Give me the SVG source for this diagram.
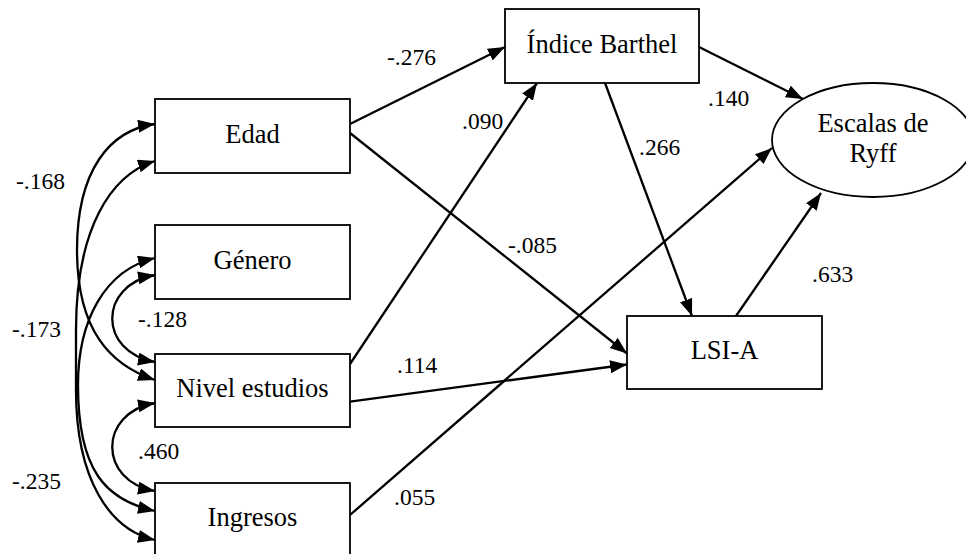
<svg xmlns="http://www.w3.org/2000/svg" width="966" height="554" viewBox="0 0 966 554">
  <style>
    .box { fill: #fff; stroke: #000; stroke-width: 1.8; }
    .lbl { font-family: "Liberation Serif", "Times New Roman", serif; font-size: 26.5px; fill: #000; text-anchor: middle; }
    .coef { font-family: "Liberation Serif", "Times New Roman", serif; font-size: 23.5px; fill: #000; }
    .path { fill: none; stroke: #000; stroke-width: 2.3; marker-end: url(#ah); }
    .cov { fill: none; stroke: #000; stroke-width: 2.3; marker-start: url(#ah); marker-end: url(#ah); }
  </style>
  <defs>
    <marker id="ah" markerUnits="userSpaceOnUse" markerWidth="17" markerHeight="14" refX="17" refY="6.5" orient="auto-start-reverse">
      <path d="M0,0 L17,6.5 L0,13 Z" fill="#000"/>
    </marker>
  </defs>
  <rect width="966" height="554" fill="#fff"/>

  <!-- connectors: regression paths and covariances -->
  <g id="connectors">
    <line class="path" x1="350" y1="124" x2="505" y2="47"/>
    <line class="path" x1="350" y1="133" x2="627" y2="353.5"/>
    <line class="path" x1="350" y1="364" x2="537" y2="83"/>
    <line class="path" x1="350" y1="401.7" x2="627" y2="364.5"/>
    <line class="path" x1="350" y1="515" x2="772" y2="148"/>
    <line class="path" x1="605" y1="83" x2="692" y2="316"/>
    <line class="path" x1="699" y1="47" x2="803" y2="99"/>
    <line class="path" x1="736" y1="316" x2="821" y2="193"/>

    <!-- Edad <-> Nivel estudios -->
    <path class="cov" d="M155,124 C110,130 77,170 77,250 C77,330 110,365 155,380"/>
    <!-- Edad <-> Ingresos -->
    <path class="cov" d="M155,161 C110,175 76,230 76,330 L76,390 C76,480 110,530 155,540"/>
    <!-- Género <-> Ingresos -->
    <path class="cov" d="M155,258 C105,270 78,320 78,385 C78,470 105,500 155,511"/>
    <!-- Género <-> Nivel estudios -->
    <path class="cov" d="M155,275 C98,285 98,352 155,362"/>
    <!-- Nivel estudios <-> Ingresos -->
    <path class="cov" d="M155,403 C98,413 98,481 155,491"/>
  </g>

  <!-- coefficients -->
  <g id="coefficients">
    <text class="coef" x="387" y="65">-.276</text>
    <text class="coef" x="462" y="129">.090</text>
    <text class="coef" x="639" y="155">.266</text>
    <text class="coef" x="708" y="106">.140</text>
    <text class="coef" x="508" y="253">-.085</text>
    <text class="coef" x="397" y="373">.114</text>
    <text class="coef" x="394" y="505">.055</text>
    <text class="coef" x="812" y="282">.633</text>
    <text class="coef" x="16" y="189">-.168</text>
    <text class="coef" x="12" y="337">-.173</text>
    <text class="coef" x="12" y="489">-.235</text>
    <text class="coef" x="138" y="327">-.128</text>
    <text class="coef" x="138" y="459">.460</text>
  </g>

  <g id="edad">
    <rect class="box" x="155" y="99" width="195" height="74"/>
    <text class="lbl" x="252.5" y="143">Edad</text>
  </g>
  <g id="genero">
    <rect class="box" x="155" y="225" width="195" height="74"/>
    <text class="lbl" x="252.5" y="269">Género</text>
  </g>
  <g id="nivel-estudios">
    <rect class="box" x="155" y="354" width="195" height="73"/>
    <text class="lbl" x="252.5" y="397">Nivel estudios</text>
  </g>
  <g id="ingresos">
    <rect class="box" x="155" y="483" width="195" height="74"/>
    <text class="lbl" x="252.5" y="526">Ingresos</text>
  </g>
  <g id="indice-barthel">
    <rect class="box" x="505" y="9" width="194" height="74"/>
    <text class="lbl" x="602" y="53">Índice Barthel</text>
  </g>
  <g id="lsi-a">
    <rect class="box" x="627" y="316" width="195" height="73"/>
    <text class="lbl" x="724.5" y="359">LSI-A</text>
  </g>
  <g id="escalas-ryff">
    <ellipse class="box" cx="873" cy="140" rx="101" ry="57"/>
    <text class="lbl" x="873" y="132">Escalas de</text>
    <text class="lbl" x="873" y="162">Ryff</text>
  </g>
</svg>
